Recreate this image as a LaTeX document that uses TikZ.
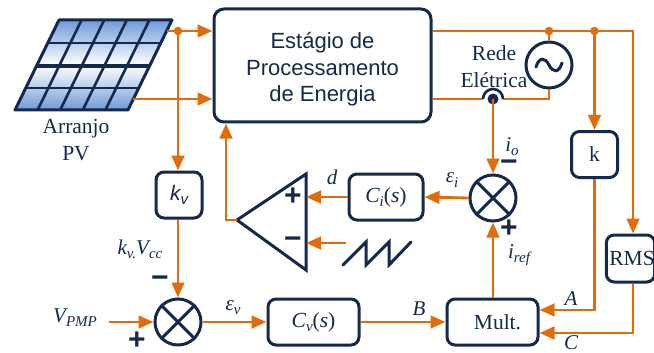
\documentclass[tikz,border=0pt]{standalone}
\usepackage{fontspec}
\setmainfont{Liberation Serif}
\newfontfamily\blocksans{Liberation Sans}
\usetikzlibrary{arrows.meta,calc}
\definecolor{navy}{HTML}{14294B}
\definecolor{flow}{HTML}{E06C0A}
\definecolor{cellblue}{HTML}{6F9AD8}
\newcommand{\lowtxt}[1]{\raisebox{-0.2em}{\fontsize{15}{15}\selectfont\itshape #1}}
\tikzset{
  x=1pt,y=-1pt,
  wire/.style={draw=flow,line width=2.8pt},
  feed/.style={wire,-{Triangle[length=15pt,width=12.5pt]}},
  block/.style={draw=navy,line width=3pt,rounded corners=8pt,text=navy,inner sep=0pt,align=center,font=\fontsize{21.5}{24}\selectfont},
  summer/.style={draw=navy,line width=3pt,circle,minimum size=46pt,inner sep=0pt},
  tag/.style={text=navy,inner sep=0pt,align=center,font=\fontsize{21.5}{27}\selectfont},
  mathtag/.style={text=navy,inner sep=0pt,font=\fontsize{21}{24}\selectfont\itshape},
  signmark/.style={text=navy,inner sep=0pt,font=\blocksans\bfseries\fontsize{30}{30}\selectfont},
  junction/.style={circle,fill=flow,inner sep=0pt,minimum size=8.5pt},
  panelline/.style={draw=navy,line width=3pt,line join=round},
  gridline/.style={draw=navy,line width=2.6pt},
}
\begin{document}
\begin{tikzpicture}
\useasboundingbox (0,0) rectangle (654,353);

% Photovoltaic array: shaded parallelogram with its cell grid
\shade[top color=cellblue,bottom color=cellblue,middle color=white]
  (59,20) -- (172,20) -- (128,110) -- (15,110) -- cycle;
\foreach \u in {0.2,0.4,0.6,0.8}
  \draw[gridline] ($(59,20)!\u!(172,20)$) -- ($(15,110)!\u!(128,110)$);
\foreach \u/\w in {0.255/2.6,0.51/3.4,0.755/2.6}
  \draw[gridline,line width=\w pt] ($(59,20)!\u!(15,110)$) -- ($(172,20)!\u!(128,110)$);
\draw[panelline] (59,20) -- (172,20) -- (128,110) -- (15,110) -- cycle;
\coordinate (pvtop) at (167,31);
\coordinate (pvbot) at (133,99);
\node[tag] (pvlabel) at (76,140) {Arranjo\\PV};

% Blocks
\node[block,rounded corners=10pt,minimum width=217pt,minimum height=113pt,font=\blocksans\fontsize{22}{26.5}\selectfont] (stage) at (322.5,65.5) {\rule{0pt}{24pt}Estágio de\\Processamento\\de Energia};
\node[block,minimum width=46pt,minimum height=46pt] (kbox) at (594.5,154.5) {k};
\node[block,minimum width=47pt,minimum height=47pt] (rms) at (630.5,258.5) {\hspace{3pt}RMS};
\node[block,minimum width=91pt,minimum height=46pt] (mult) at (492.5,322) {\hspace{10pt}Mult.};
\node[block,minimum width=91pt,minimum height=46pt] (cv) at (313.5,322) {\itshape C\lowtxt{v}\upshape(\itshape s\upshape)};
\node[block,minimum width=74pt,minimum height=46pt] (ci) at (386,197) {\itshape C\lowtxt{i}\upshape(\itshape s\upshape)};
\node[block,minimum width=46pt,minimum height=46pt,font=\blocksans\itshape\fontsize{21}{24}\selectfont] (kv) at (179,195) {k\lowtxt{v}};

% Summing junctions
\node[summer] (sumi) at (493,198) {};
\draw[navy,line width=3pt] (sumi.45) -- (sumi.225) (sumi.135) -- (sumi.315);
\node[summer] (sumv) at (178,322) {};
\draw[navy,line width=3pt] (sumv.45) -- (sumv.225) (sumv.135) -- (sumv.315);

% Grid source
\node[summer] (grid) at (549,65) {};
\draw[navy,line width=3pt,line cap=round] (536,67) .. controls (539,57) and (545,57) .. (549,65) .. controls (553,73) and (559,73) .. (562,63);
\node[tag] (gridlabel) at (494,67) {Rede\\Elétrica};

% Comparator
\coordinate (cmpapex) at (237,220);
\coordinate (cmptop) at (306,174);
\coordinate (cmpbot) at (306,270);
\draw[navy,line width=3pt,line join=miter] (cmpapex) -- (cmptop) -- (cmpbot) -- cycle;
\coordinate (cmpplus) at (306,197);
\coordinate (cmpminus) at (306,243);

% Carrier waveform
\coordinate (sawin) at (346,243);
\draw[navy,line width=3pt,line cap=round,line join=miter] (343,265) -- (366,242) -- (366,265) -- (389,242) -- (389,265) -- (411,242);

% Power connections
\coordinate (tapv) at (178,31);
\coordinate (tapg) at (549,31);
\coordinate (tapk) at (594.5,31);
\coordinate (hop) at (493,99);
\draw[wire] (pvtop) -- (tapv);
\draw[feed] (tapv) -- (stage.west |- tapv);
\draw[feed] (pvbot) -- (stage.west |- pvbot);
\draw[wire] (stage.east |- tapv) -- (tapg) -- (tapk) -- (633,31) -- (633,120);
\draw[wire] (tapg) -- (grid.north);
\draw[wire] (stage.east |- hop) -- (483,99);
\draw[wire] (503,99) -- (549,99) -- (grid.south);
\draw[navy,line width=2.6pt] (483,99) arc[start angle=180,end angle=0,radius=10pt];
\fill[navy] (hop) circle[radius=5.5pt];
\node[junction] (dotv) at (tapv) {};
\node[junction] (dotg) at (tapg) {};
\node[junction] (dotk) at (tapk) {};

% Control connections
\draw[feed] (633,120) -- (rms.north -| 633,0);
\draw[feed] (tapv) -- (kv.north -| tapv);
\draw[feed] (tapk) -- (kbox.north);
\draw[feed] (hop) -- (sumi.north);
\draw[feed] (kv.south -| sumv) -- (sumv.north);
\draw[feed] (sumv.east) -- (cv.west);
\coordinate (vin) at (109,322);
\draw[feed] (vin) -- (sumv.west);
\draw[feed] (cv.east) -- (mult.west);
\draw[feed] (mult.north -| sumi) -- (sumi.south);
\draw[feed] (sumi.west) -- (ci.east);
\draw[feed] (ci.west) -- (cmpplus);
\draw[feed] (sawin) -- (cmpminus);
\draw[feed] (cmpapex) -- (226,220) -- (stage.south -| 226,0);
\draw[feed] (kbox.south) -- (594.5,310) -- (mult.east |- 0,310);
\draw[feed] (rms.south -| 633,0) -- (633,333) -- (mult.east |- 0,333);

% Signal labels
\node[mathtag] (lio) at (512,147) {i\lowtxt{o}};
\node[mathtag] (lei) at (452,180) {ε\lowtxt{i}};
\node[mathtag] (ld) at (332,177) {d};
\node[mathtag] (liref) at (519,255) {i\lowtxt{ref}};
\node[mathtag] (la) at (571,299) {A};
\node[mathtag] (lc) at (571,343) {C};
\node[mathtag] (lb) at (419,309) {B};
\node[mathtag] (lev) at (233,308) {ε\lowtxt{v}};
\node[mathtag] (lvp) at (75,318) {V\lowtxt{PMP}};
\node[mathtag] (lkv) at (140,249) {k\lowtxt{v.}V\lowtxt{cc}};

% Signs
\node[signmark] (s1) at (293,197) {+};
\node[signmark] (s2) at (293,243) {−};
\node[signmark] (s3) at (509,166) {−};
\node[signmark] (s4) at (509,229) {+};
\node[signmark] (s5) at (160,282) {−};
\node[signmark] (s6) at (137,341) {+};
\end{tikzpicture}
\end{document}
